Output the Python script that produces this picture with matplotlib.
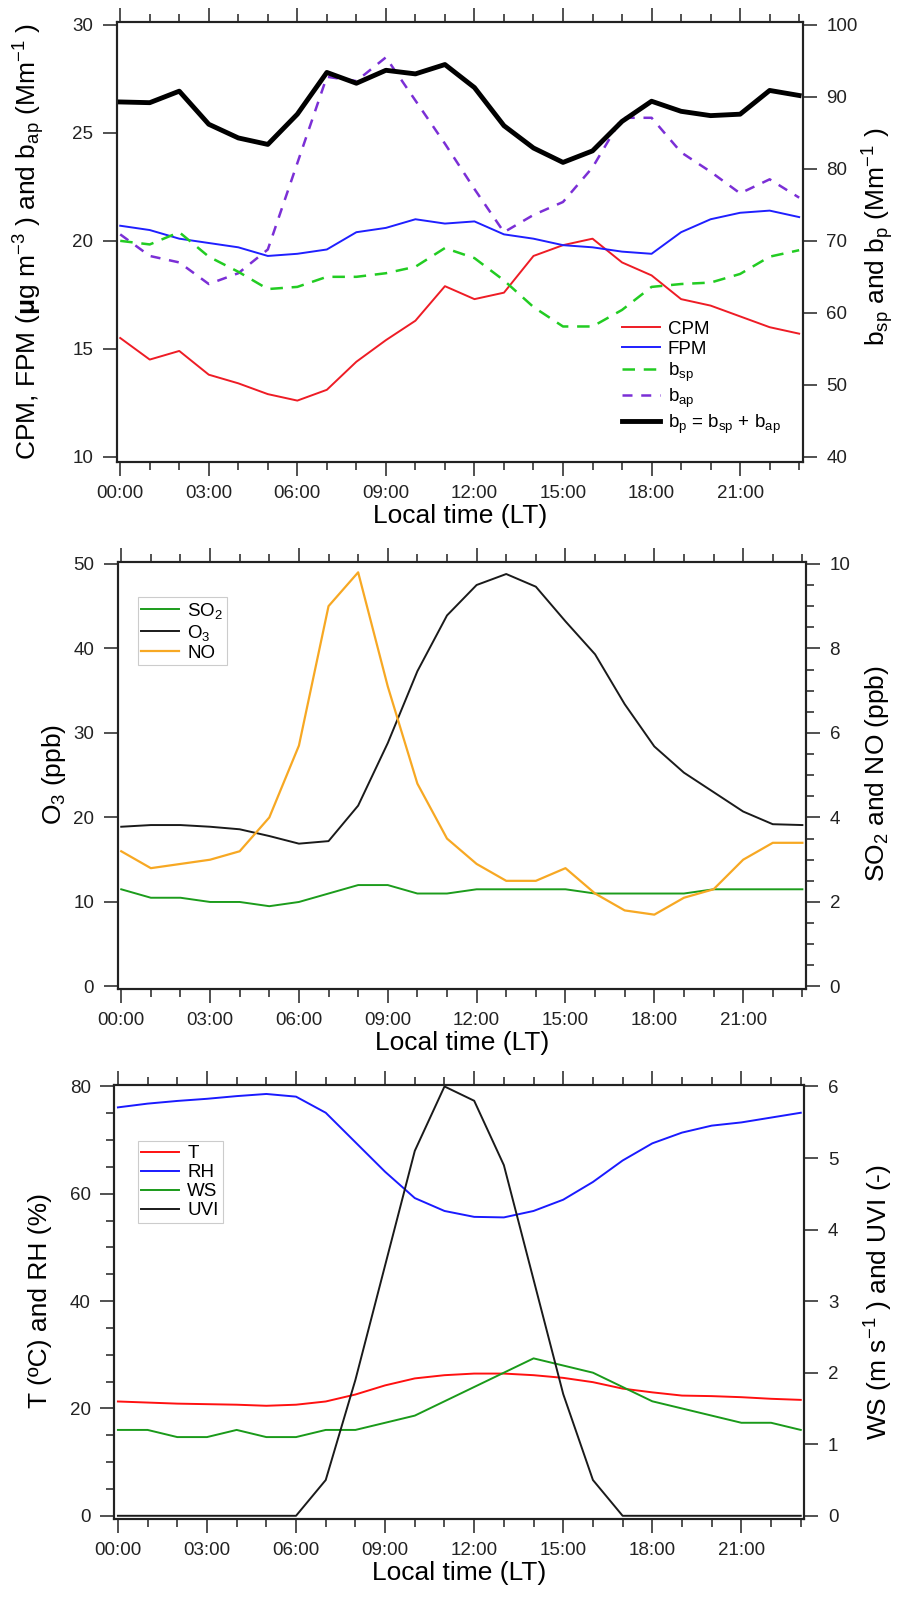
import numpy as np
import matplotlib
matplotlib.use("Agg")
import matplotlib.pyplot as plt
from matplotlib.ticker import MultipleLocator, FuncFormatter

plt.rcParams['font.family'] = ['Liberation Sans', 'DejaVu Sans']
plt.rcParams['mathtext.fontset'] = 'custom'
plt.rcParams['mathtext.rm'] = 'Liberation Sans'
plt.rcParams['mathtext.it'] = 'Liberation Sans:italic'
plt.rcParams['mathtext.bf'] = 'Liberation Sans:bold'
plt.rcParams['mathtext.default'] = 'regular'

hours = np.arange(24)

# aerosol mass and optical properties
cpm = [15.5, 14.5, 14.9, 13.8, 13.4, 12.9, 12.6, 13.1, 14.4, 15.4, 16.3, 17.9,
       17.3, 17.6, 19.3, 19.8, 20.1, 19.0, 18.4, 17.3, 17.0, 16.5, 16.0, 15.7]
fpm = [20.7, 20.5, 20.1, 19.9, 19.7, 19.3, 19.4, 19.6, 20.4, 20.6, 21.0, 20.8,
       20.9, 20.3, 20.1, 19.8, 19.7, 19.5, 19.4, 20.4, 21.0, 21.3, 21.4, 21.1]
bap = [20.3, 19.3, 19.0, 18.0, 18.5, 19.6, 23.6, 27.6, 27.4, 28.5, 26.5, 24.5,
       22.4, 20.4, 21.2, 21.8, 23.4, 25.7, 25.7, 24.1, 23.2, 22.2, 22.85, 22.0]
bsp = [70.0, 69.5, 71.2, 67.8, 65.7, 63.3, 63.6, 65.0, 65.0, 65.5, 66.4, 69.0,
       67.6, 64.5, 60.8, 58.1, 58.1, 60.4, 63.6, 64.0, 64.2, 65.4, 67.8, 68.7]
bp = [89.3, 89.2, 90.8, 86.2, 84.3, 83.4, 87.6, 93.4, 91.9, 93.7, 93.2, 94.5,
      91.3, 86.0, 82.9, 80.9, 82.5, 86.6, 89.4, 88.0, 87.4, 87.6, 90.9, 90.2]

# gases
o3 = [18.9, 19.1, 19.1, 18.9, 18.6, 17.8, 16.9, 17.2, 21.4, 28.8, 37.3, 43.9,
      47.5, 48.8, 47.3, 43.2, 39.3, 33.4, 28.4, 25.3, 23.0, 20.7, 19.2, 19.1]
so2 = [2.3, 2.1, 2.1, 2.0, 2.0, 1.9, 2.0, 2.2, 2.4, 2.4, 2.2, 2.2,
       2.3, 2.3, 2.3, 2.3, 2.2, 2.2, 2.2, 2.2, 2.3, 2.3, 2.3, 2.3]
no = [3.2, 2.8, 2.9, 3.0, 3.2, 4.0, 5.7, 9.0, 9.8, 7.1, 4.8, 3.5,
      2.9, 2.5, 2.5, 2.8, 2.2, 1.8, 1.7, 2.1, 2.3, 3.0, 3.4, 3.4]

# meteorology
temp = [21.3, 21.1, 20.9, 20.8, 20.7, 20.5, 20.7, 21.3, 22.6, 24.3, 25.6, 26.2,
        26.5, 26.5, 26.2, 25.7, 24.9, 23.7, 23.0, 22.4, 22.3, 22.1, 21.8, 21.6]
rh = [76.1, 76.8, 77.3, 77.7, 78.2, 78.6, 78.1, 75.1, 69.6, 64.1, 59.2, 56.8,
      55.7, 55.6, 56.8, 58.9, 62.2, 66.2, 69.4, 71.4, 72.7, 73.3, 74.2, 75.1]
ws = [1.2, 1.2, 1.1, 1.1, 1.2, 1.1, 1.1, 1.2, 1.2, 1.3, 1.4, 1.6,
      1.8, 2.0, 2.2, 2.1, 2.0, 1.8, 1.6, 1.5, 1.4, 1.3, 1.3, 1.2]
uvi = [0, 0, 0, 0, 0, 0, 0, 0.5, 1.9, 3.5, 5.1, 6.0,
       5.8, 4.9, 3.3, 1.7, 0.5, 0, 0, 0, 0, 0, 0, 0]

TICK_FS = 13.5
LABEL_FS = 19
LEG_FS = 13.5
TXT = '#222222'


def style(ax, ax2):
    ax.set_xlim(-0.12, 23.12)
    ax.xaxis.set_major_locator(MultipleLocator(3))
    ax.xaxis.set_minor_locator(MultipleLocator(1))
    ax.xaxis.set_major_formatter(FuncFormatter(lambda v, p: '%02d:00' % v))
    ax.tick_params(axis='x', which='both', direction='out', top=True, bottom=True,
                   width=1.1, colors=TXT, labelsize=TICK_FS, pad=7)
    ax.tick_params(axis='x', which='major', length=10)
    ax.tick_params(axis='x', which='minor', length=6)
    ax.tick_params(axis='y', which='both', direction='out', left=True, right=False,
                   width=1.1, colors=TXT, labelsize=TICK_FS, pad=7)
    ax.tick_params(axis='y', which='major', length=10)
    ax.tick_params(axis='y', which='minor', length=6)
    ax2.tick_params(axis='y', which='both', direction='out', left=False, right=True,
                    width=1.1, colors=TXT, labelsize=TICK_FS, pad=7)
    ax2.tick_params(axis='y', which='major', length=10)
    ax2.tick_params(axis='y', which='minor', length=6)
    for a in (ax, ax2):
        for s in a.spines.values():
            s.set_linewidth(1.5)
            s.set_color(TXT)
    ax.set_xlabel('Local time (LT)', fontsize=LABEL_FS, labelpad=1, color='black')


fig = plt.figure(figsize=(9.01, 15.97), dpi=100)

# ---- panel 1: particles and optical coefficients
ax1 = fig.add_axes([0.1295, 0.7109, 0.7614, 0.2755])
ax1b = ax1.twinx()
l_cpm, = ax1.plot(hours, cpm, color='#ee1c25', lw=1.4, label='CPM')
l_fpm, = ax1.plot(hours, fpm, color='#1f1fff', lw=1.4, label='FPM')
l_bap, = ax1.plot(hours, bap, color='#7b2fd6', lw=1.8, dashes=(4, 3.5), label='b$_{ap}$')
l_bsp, = ax1b.plot(hours, bsp, color='#22cc22', lw=1.8, dashes=(5, 3.5), label='b$_{sp}$')
l_bp, = ax1b.plot(hours, bp, color='black', lw=3.5, label='b$_p$ = b$_{sp}$ + b$_{ap}$')
ax1.set_ylim(9.77, 30.15)
ax1b.set_ylim(40 + (9.77 - 10) * 3, 40 + (30.15 - 10) * 3)
ax1.yaxis.set_major_locator(MultipleLocator(5))
ax1b.yaxis.set_major_locator(MultipleLocator(10))
style(ax1, ax1b)
ax1.set_ylabel('CPM, FPM ($\\mathbf{μ}$g m$^{-3}$ ) and b$_{ap}$ (Mm$^{-1}$ )',
               fontsize=LABEL_FS)
ax1.yaxis.set_label_coords(-0.1016, 0.5)
ax1b.set_ylabel('b$_{sp}$ and b$_p$ (Mm$^{-1}$ )', fontsize=LABEL_FS)
ax1b.yaxis.set_label_coords(1.0835, 0.51)
ax1b.legend(handles=[l_cpm, l_fpm, l_bsp, l_bap, l_bp], loc='upper left',
            bbox_to_anchor=(0.7366, 0.32), frameon=False, fontsize=LEG_FS,
            borderpad=0, borderaxespad=0, handlelength=2.0, handletextpad=0.45,
            labelspacing=0.15)

# ---- panel 2: trace gases
ax2 = fig.add_axes([0.1306, 0.3808, 0.7639, 0.2676])
ax2b = ax2.twinx()
l_o3, = ax2.plot(hours, o3, color='#1a1a1a', lw=1.4, label='O$_3$')
l_so2, = ax2b.plot(hours, so2, color='#1c9c1c', lw=1.4, label='SO$_2$')
l_no, = ax2b.plot(hours, no, color='#f7a823', lw=1.6, label='NO')
ax2.set_ylim(-0.28, 50.28)
ax2b.set_ylim(-0.28 / 5, 50.28 / 5)
ax2.yaxis.set_major_locator(MultipleLocator(10))
ax2b.yaxis.set_major_locator(MultipleLocator(2))
ax2b.yaxis.set_minor_locator(MultipleLocator(0.5))
style(ax2, ax2b)
ax2.set_ylabel('O$_3$ (ppb)', fontsize=LABEL_FS)
ax2.yaxis.set_label_coords(-0.0718, 0.502)
ax2b.set_ylabel('SO$_2$ and NO (ppb)', fontsize=LABEL_FS)
ax2b.yaxis.set_label_coords(1.083, 0.503)
leg2 = ax2b.legend(handles=[l_so2, l_o3, l_no], loc='upper left',
                   bbox_to_anchor=(0.029, 0.917), fontsize=LEG_FS, fancybox=False,
                   framealpha=1, edgecolor='#cccccc', borderpad=0.2, borderaxespad=0,
                   handlelength=2.0, handletextpad=0.45, labelspacing=0.1)
leg2.get_frame().set_linewidth(0.8)

# ---- panel 3: meteorology
ax3 = fig.add_axes([0.1269, 0.0491, 0.7658, 0.2716])
ax3b = ax3.twinx()
l_t, = ax3.plot(hours, temp, color='#ff1010', lw=1.4, label='T')
l_rh, = ax3.plot(hours, rh, color='#1a1aff', lw=1.4, label='RH')
l_ws, = ax3b.plot(hours, ws, color='#1a9a1a', lw=1.4, label='WS')
l_uvi, = ax3b.plot(hours, uvi, color='#1a1a1a', lw=1.4, label='UVI')
ax3.set_ylim(-0.52, 80.3)
ax3b.set_ylim(-0.52 * 6 / 80, 80.3 * 6 / 80)
ax3.yaxis.set_major_locator(MultipleLocator(20))
ax3.yaxis.set_minor_locator(MultipleLocator(5))
ax3b.yaxis.set_major_locator(MultipleLocator(1))
style(ax3, ax3b)
ax3.set_ylabel('T (ºC) and RH (%)', fontsize=LABEL_FS)
ax3.yaxis.set_label_coords(-0.0907, 0.502)
ax3b.set_ylabel('WS (m s$^{-1}$ ) and UVI (-)', fontsize=LABEL_FS)
ax3b.yaxis.set_label_coords(1.085, 0.5)
leg3 = ax3b.legend(handles=[l_t, l_rh, l_ws, l_uvi], loc='upper left',
                   bbox_to_anchor=(0.0339, 0.8697), fontsize=LEG_FS, fancybox=False,
                   framealpha=1, edgecolor='#cccccc', borderpad=0.2, borderaxespad=0,
                   handlelength=2.0, handletextpad=0.45, labelspacing=0.1)
leg3.get_frame().set_linewidth(0.8)

fig.savefig('out.png', dpi=100, facecolor='white')
